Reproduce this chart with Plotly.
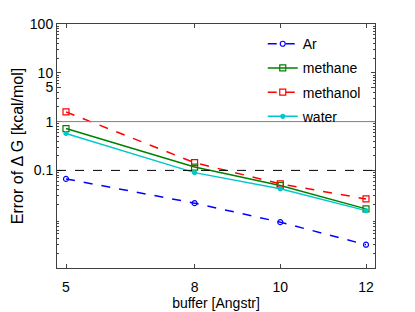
import plotly.graph_objects as go

buffer = [5, 8, 10, 12]
ar = [0.067, 0.0213, 0.0087, 0.0030]
methane = [0.72, 0.117, 0.049, 0.0163]
methanol = [1.58, 0.144, 0.053, 0.026]
water = [0.57, 0.090, 0.042, 0.015]

ytick_vals = [0.1, 1, 5, 10, 100]
ytick_text = ["0.1", "1", "5", "10", "100"]
xtick_vals = [5, 8, 10, 12]

font = "Liberation Sans, Arial, Helvetica, sans-serif"

fig = go.Figure()
series = [
    ("Ar", ar, "#0000ff", "dash", "circle-open", 5),
    ("methane", methane, "#008000", "solid", "square-open", 6),
    ("methanol", methanol, "#ff0000", "dash", "square-open", 6),
    ("water", water, "#00c8c8", "solid", "circle", 4),
]
for i, (name, vals, col, dash, sym, ms) in enumerate(series):
    fig.add_trace(go.Scatter(
        x=buffer, y=vals, name=name, mode="lines+markers",
        line=dict(color=col, dash=dash, width=1.5),
        marker=dict(symbol=sym, size=ms, color=col, line=dict(color=col, width=1.2)),
        legendgroup=f"g{i}",
    ))

minor_vals = []
for e in range(-3, 2):
    for m in range(2, 10):
        minor_vals.append(m * 10 ** e)

fig.add_shape(type="line", xref="paper", x0=0, x1=1, yref="y", y0=1, y1=1,
              line=dict(color="#808080", width=1))
fig.add_shape(type="line", xref="paper", x0=0, x1=1, yref="y", y0=0.1, y1=0.1,
              line=dict(color="#000000", width=1, dash="dash"))

fig.update_layout(
    width=407, height=304,
    margin=dict(l=49, r=40, t=16, b=44),
    paper_bgcolor="white", plot_bgcolor="white",
    font=dict(family=font, size=14, color="black"),
    showlegend=True,
    legend=dict(x=0.647, y=0.983, xanchor="left", yanchor="top",
                bgcolor="rgba(0,0,0,0)", font=dict(size=14),
                tracegroupgap=3, itemwidth=30),
    xaxis=dict(range=[4.79, 12.21], tickmode="array", tickvals=xtick_vals,
               ticks="inside", ticklen=4, showgrid=False, zeroline=False,
               showline=True, linecolor="#404040", linewidth=1, mirror="ticks",
               automargin=False, ticklabelstandoff=6,
               title=dict(text="buffer [Angstr]", standoff=0, font=dict(size=14)),
               tickfont=dict(size=14)),
    yaxis=dict(type="log", range=[-3, 2], tickmode="array", tickvals=ytick_vals,
               ticktext=ytick_text, ticks="inside", ticklen=4, showgrid=False,
               zeroline=False, showline=True, linecolor="#404040", linewidth=1,
               mirror="ticks", automargin=False,
               minor=dict(tickmode="array", tickvals=minor_vals, ticks="inside",
                          ticklen=2, showgrid=False),
               title=dict(text="Error of \u0394 G [kcal/mol]", standoff=2, font=dict(size=16)),
               tickfont=dict(size=14)),
)

fig.write_html("out.html")
